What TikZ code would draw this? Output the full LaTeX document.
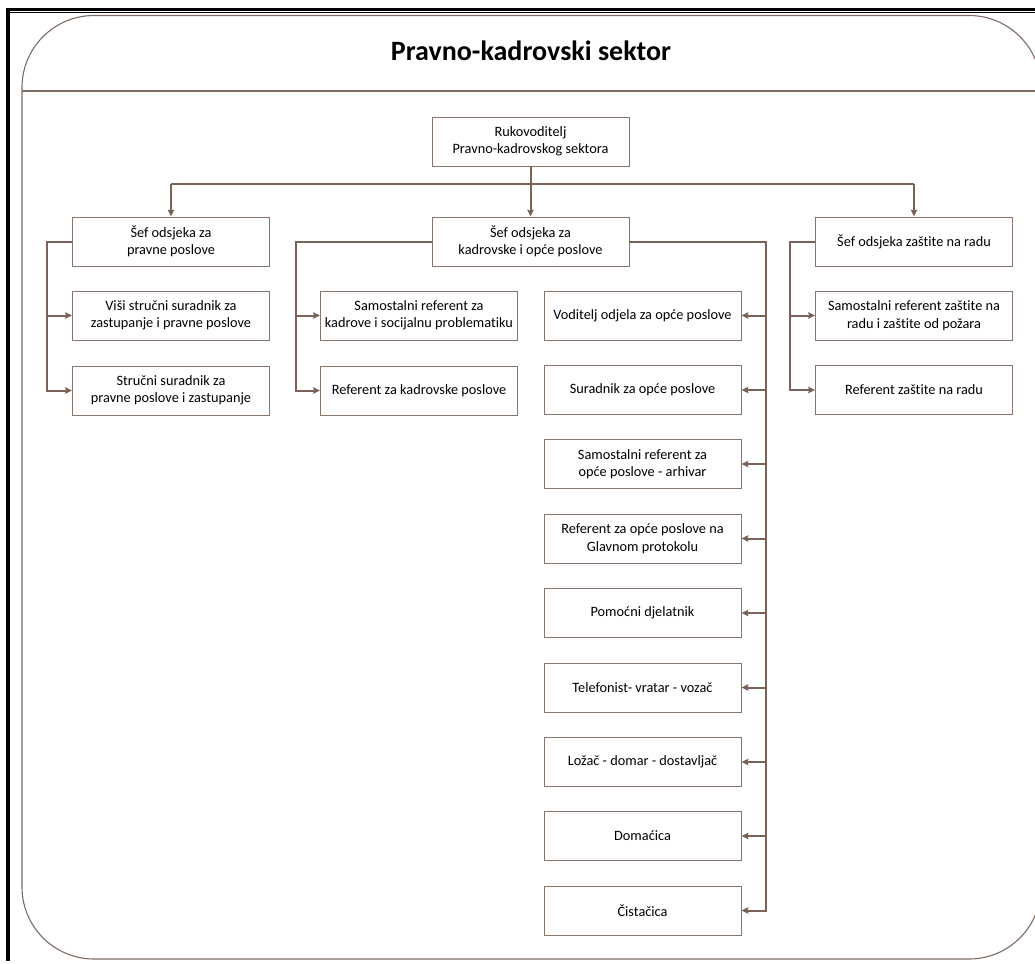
\documentclass[tikz,border=0pt]{standalone}
\usepackage{fontspec}
\setmainfont{Carlito}[Ligatures={NoCommon}]
\usetikzlibrary{arrows.meta}
\definecolor{linec}{RGB}{122,98,88}
\definecolor{boxc}{RGB}{135,118,108}
\definecolor{framec}{RGB}{125,108,100}
\tikzset{
  unit/.style={draw=boxc, line width=0.9pt, fill=white, minimum width=197pt,
    minimum height=49pt, inner sep=0pt, align=center,
    font=\fontsize{14.3}{17.5}\selectfont},
  conn/.style={draw=linec, line width=2pt},
  arr/.style={conn, -{Stealth[length=7pt,width=6.5pt,inset=1.2pt]}},
}
\begin{document}
\begin{tikzpicture}[x=1pt,y=-1pt]
\useasboundingbox (0,0) rectangle (1035,963);
% page border: thick/thin rule on top, thick rule on the left
\fill[black] (6,8) rectangle (1035,10.6);
\fill[black] (10,12) rectangle (1035,13.4);
\fill[black] (6,8) rectangle (10,961);
% rounded sector frame with its header band
\draw[framec, line width=1.1pt, rounded corners=72pt] (22,15.5) rectangle (1041,959);
\draw[framec, line width=1.1pt] (22,91) -- (1041,91);
\node[anchor=base, font=\fontsize{28}{32}\bfseries] (title) at (531,61) {Pravno-kadrovski sektor};

% head and department chiefs
\node[unit] (top) at (530.5,141.5) {Rukovoditelj\\Pravno-kadrovskog sektora};
\node[unit] (kad) at (530.5,241.5) {Šef odsjeka za\\kadrovske i opće poslove};
\node[unit] (pr) at (171,241.5) {Šef odsjeka za\\pravne poslove};
\node[unit] (zast) at (914,241.5) {Šef odsjeka zaštite na radu};

% legal affairs
\node[unit] (pr1) at (171,315.5) {Viši stručni suradnik za\\zastupanje i pravne poslove};
\node[unit] (pr2) at (171,390.5) {Stručni suradnik za\\pravne poslove i zastupanje};

% personnel
\node[unit] (kd1) at (419,315.5) {Samostalni referent za\\kadrove i socijalnu problematiku};
\node[unit] (kd2) at (419,390.5) {Referent za kadrovske poslove};

% general affairs
\node[unit] (op1) at (642.5,315.5) {Voditelj odjela za opće poslove};
\node[unit] (op2) at (642.5,390) {Suradnik za opće poslove};
\node[unit] (op3) at (642.5,464) {Samostalni referent za\\opće poslove - arhivar};
\node[unit] (op4) at (642.5,538.5) {Referent za opće poslove na\\Glavnom protokolu};
\node[unit] (op5) at (642.5,613) {Pomoćni djelatnik};
\node[unit] (op6) at (642.5,687.5) {Telefonist- vratar - vozač};
\node[unit] (op7) at (642.5,762) {Ložač - domar - dostavljač};
\node[unit] (op8) at (642.5,836) {Domaćica};
\node[unit] (op9) at (642.5,910.5) {Čistačica};

% occupational safety
\node[unit] (zs1) at (914,315.5) {Samostalni referent zaštite na\\radu i zaštite od požara};
\node[unit] (zs2) at (914,390) {Referent zaštite na radu};

% bus lines
\coordinate (bus) at (530.5,184);
\coordinate (lbus) at (47,0);
\coordinate (kbus) at (296,0);
\coordinate (obus) at (765.5,0);
\coordinate (zbus) at (790,0);

\draw[arr] (top.south) -- (kad.north);
\draw[conn] (bus -| pr.north) -- (bus -| zast.north);
\draw[arr] (bus -| pr.north) -- (pr.north);
\draw[arr] (bus -| zast.north) -- (zast.north);

\draw[arr] (pr.west) -| (lbus |- pr2.west) -- (pr2.west);
\draw[arr] (lbus |- pr1.west) -- (pr1.west);

\draw[arr] (kad.west) -| (kbus |- kd2.west) -- (kd2.west);
\draw[arr] (kbus |- kd1.west) -- (kd1.west);

\draw[arr] (kad.east) -| (obus |- op9.east) -- (op9.east);
\foreach \n in {op1,op2,op3,op4,op5,op6,op7,op8}
  \draw[arr] (obus |- \n.east) -- (\n.east);

\draw[arr] (zast.west) -| (zbus |- zs2.west) -- (zs2.west);
\draw[arr] (zbus |- zs1.west) -- (zs1.west);
\end{tikzpicture}
\end{document}
